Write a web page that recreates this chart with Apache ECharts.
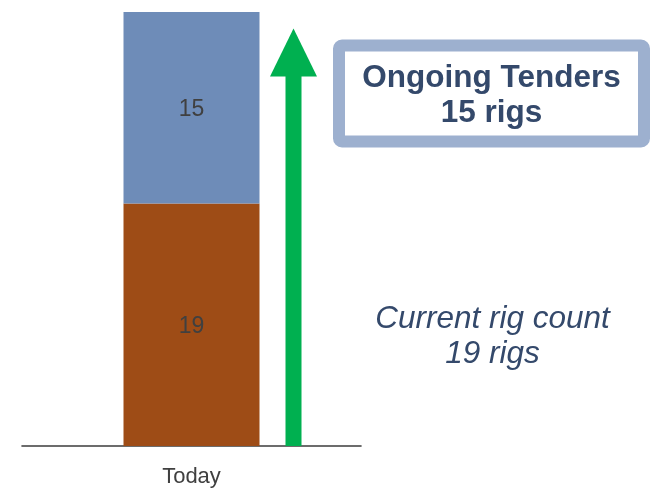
<!DOCTYPE html>
<html>
<head>
<meta charset="utf-8">
<script src="https://cdn.jsdelivr.net/npm/echarts@6/dist/echarts.min.js"></script>
<style>
  html, body { margin: 0; padding: 0; background: #ffffff; }
  #chart { width: 656px; height: 489px; }
</style>
</head>
<body>
<div id="chart"></div>
<script>
// Rig count today, split into the current fleet and ongoing tenders
const categories = ['Today'];
const currentRigs = [19];
const tenderRigs = [15];
const yMax = 34;

const tenderTitle = 'Ongoing Tenders';
const tenderSub = '15 rigs';
const currentTitle = 'Current rig count';
const currentSub = '19 rigs';

const chart = echarts.init(document.getElementById('chart'), null, { renderer: 'canvas' });

const labelStyle = {
  show: true,
  position: 'inside',
  offset: [0, 2],
  color: '#404040',
  fontSize: 23,
  fontFamily: 'Liberation Sans, Arial, sans-serif'
};

chart.setOption({
  animation: false,
  backgroundColor: '#ffffff',
  grid: { left: 22, right: 295, top: 12, bottom: 43 },
  xAxis: {
    type: 'category',
    data: categories,
    axisLine: { show: true, lineStyle: { color: '#3c3c3c', width: 1.6 } },
    axisTick: { show: false },
    axisLabel: {
      color: '#404040',
      fontSize: 22,
      margin: 20,
      fontFamily: 'Liberation Sans, Arial, sans-serif'
    }
  },
  yAxis: {
    type: 'value',
    min: 0,
    max: yMax,
    show: false,
    splitLine: { show: false }
  },
  series: [
    {
      name: 'Current rig count',
      type: 'bar',
      stack: 'rigs',
      data: currentRigs,
      barWidth: 136,
      itemStyle: { color: '#9e4c16' },
      label: labelStyle
    },
    {
      name: 'Ongoing Tenders',
      type: 'bar',
      stack: 'rigs',
      data: tenderRigs,
      barWidth: 136,
      itemStyle: { color: '#6e8cb8' },
      label: labelStyle
    }
  ]
});

// Annotations: growth arrow beside the bar, tender callout box and fleet caption
const base = chart.convertToPixel({ yAxisIndex: 0 }, 0);
const tip = chart.convertToPixel({ yAxisIndex: 0 }, 32.7);
const ax = 293.5;
const headBase = tip + 48;

const navy = '#34496b';

chart.setOption({
  graphic: [
    {
      type: 'rect',
      shape: { x: ax - 8, y: headBase - 1, width: 16, height: base - headBase + 1 },
      style: { fill: '#00b050' },
      z: 10
    },
    {
      type: 'polygon',
      shape: { points: [[ax, tip], [ax + 23.5, headBase], [ax - 23.5, headBase]] },
      style: { fill: '#00b050' },
      z: 10
    },
    {
      type: 'rect',
      shape: { x: 339, y: 45.5, width: 305, height: 96, r: 3 },
      style: { fill: '#ffffff', stroke: '#9db0cf', lineWidth: 12 },
      z: 10
    },
    {
      type: 'text',
      x: 491.5, y: 78.5,
      style: {
        text: tenderTitle,
        fill: navy,
        font: 'bold 31.5px "Liberation Sans", Arial, sans-serif',
        textAlign: 'center',
        textVerticalAlign: 'middle'
      },
      z: 11
    },
    {
      type: 'text',
      x: 491.5, y: 113.5,
      style: {
        text: tenderSub,
        fill: navy,
        font: 'bold 31.5px "Liberation Sans", Arial, sans-serif',
        textAlign: 'center',
        textVerticalAlign: 'middle'
      },
      z: 11
    },
    {
      type: 'text',
      x: 492.5, y: 319.5,
      style: {
        text: currentTitle,
        fill: navy,
        font: 'italic 31.5px "Liberation Sans", Arial, sans-serif',
        textAlign: 'center',
        textVerticalAlign: 'middle'
      },
      z: 11
    },
    {
      type: 'text',
      x: 492.5, y: 354.5,
      style: {
        text: currentSub,
        fill: navy,
        font: 'italic 31.5px "Liberation Sans", Arial, sans-serif',
        textAlign: 'center',
        textVerticalAlign: 'middle'
      },
      z: 11
    }
  ]
});
</script>
</body>
</html>
